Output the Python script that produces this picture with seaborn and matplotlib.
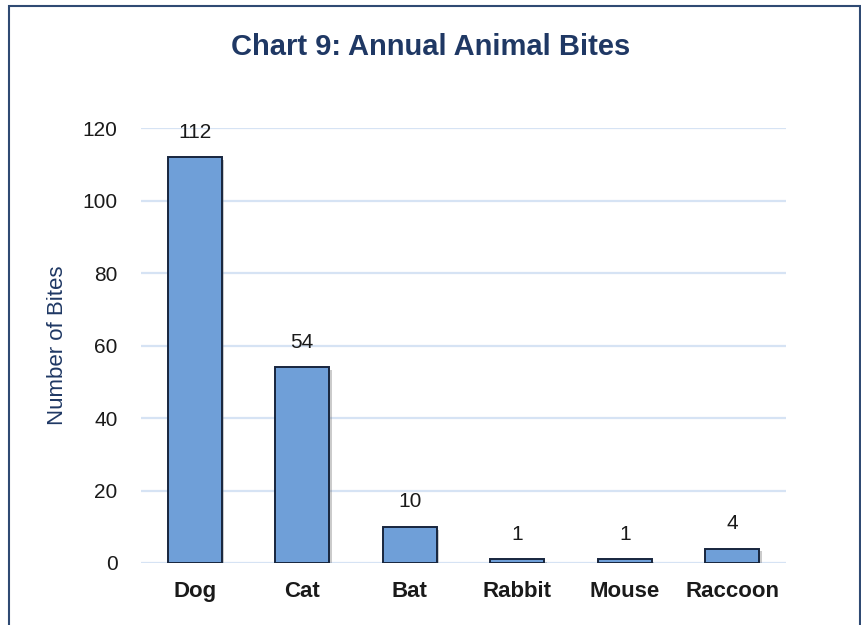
import pandas as pd
import seaborn as sns
import matplotlib.pyplot as plt
import matplotlib.patheffects as pe
from matplotlib.patches import Rectangle

# Chart data
animals = ["Dog", "Cat", "Bat", "Rabbit", "Mouse", "Raccoon"]
bites = [112, 54, 10, 1, 1, 4]
y_ticks = [0, 20, 40, 60, 80, 100, 120]

df = pd.DataFrame({"animal": animals, "bites": bites})

sns.set_theme(style="white")
plt.rcParams["font.family"] = ["Liberation Sans", "DejaVu Sans"]

navy = "#1f3864"
text_dark = "#1a1a1a"

fig = plt.figure(figsize=(8.62, 6.25), dpi=100)
ax = fig.add_axes([0.1636, 0.0992, 0.7482, 0.696])

sns.barplot(data=df, x="animal", y="bites", color="#6f9fd8", width=0.5,
            edgecolor="#17253d", linewidth=1.4, saturation=1, ax=ax, zorder=3)

# soft shadow on bars like the Office chart
for bar in ax.patches:
    bar.set_path_effects([pe.SimplePatchShadow(offset=(2, -2), alpha=0.3, shadow_rgbFace="#555555"),
                          pe.Normal()])

# data labels
for i, v in enumerate(bites):
    ax.annotate(str(v), (i, v), xytext=(0, 11), textcoords="offset points",
                ha="center", va="bottom", fontsize=15, color=text_dark)

ax.set_ylim(0, 120)
ax.set_yticks(y_ticks)
ax.set_xlim(-0.5, len(animals) - 0.5)
ax.yaxis.grid(True, color="#d6e3f4", linewidth=1.6, zorder=0)
ax.set_axisbelow(True)
for s in ax.spines.values():
    s.set_visible(False)

ax.tick_params(axis="y", length=0, pad=17, labelsize=15, labelcolor=text_dark)
ax.tick_params(axis="x", length=0, pad=13, labelsize=16, labelcolor=text_dark)
for lab in ax.get_xticklabels():
    lab.set_fontweight("bold")

ax.set_xlabel("")
ax.set_ylabel("Number of Bites", fontsize=16, color=navy, labelpad=10)

fig.text(0.5, 0.925, "Chart 9: Annual Animal Bites", ha="center", va="center",
         fontsize=21, fontweight="bold", color=navy)

# outer chart frame
fig.patches.append(Rectangle((9 / 862, -0.05), (860 - 9) / 862, 1.05 - 6 / 625,
                             transform=fig.transFigure, fill=False,
                             edgecolor="#2f4a73", linewidth=1.5))

fig.savefig("out.png", dpi=100)
